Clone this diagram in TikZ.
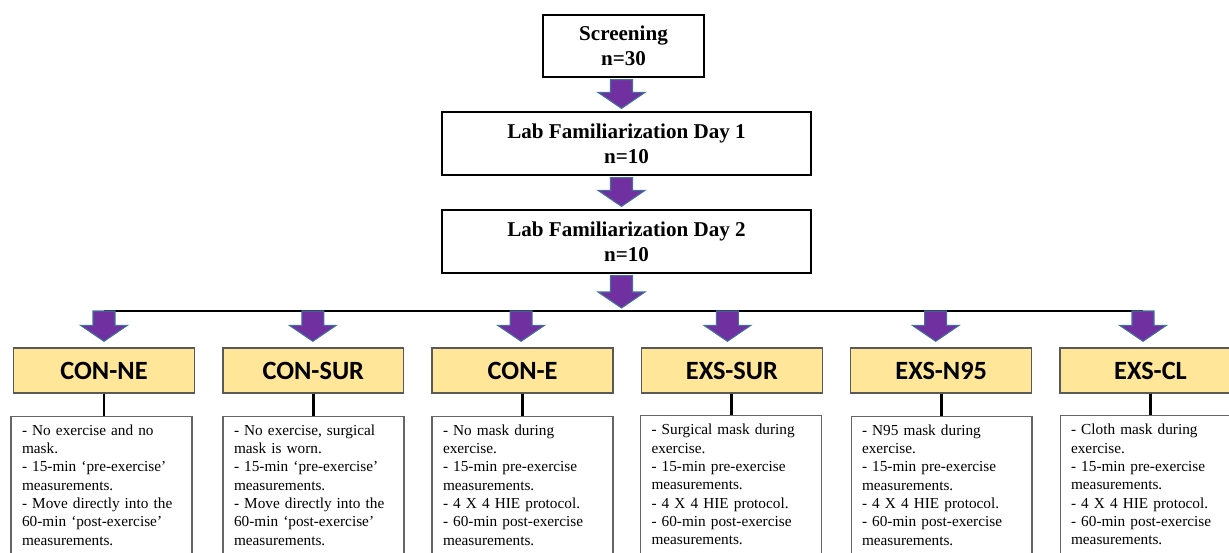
\documentclass[tikz,border=0pt]{standalone}
\usepackage{fontspec}
\setmainfont{Liberation Serif}
\newfontfamily\groupfont{Carlito}
\usepackage{tikz}
\usetikzlibrary{calc,positioning}
\definecolor{armpurple}{RGB}{112,48,160}
\definecolor{armblue}{RGB}{65,113,156}
\definecolor{softyellow}{RGB}{255,230,153}
\newcommand{\fatarrow}[2]{%
  \draw[fat] let \p1=#1, \p2=#2 in (\x1-0.22cm,\y1) -- (\x1+0.22cm,\y1) -- (\x1+0.22cm,\y2+0.32cm) -- (\x1+0.47cm,\y2+0.32cm)
    -- (\x1,\y2) -- (\x1-0.47cm,\y2+0.32cm) -- (\x1-0.22cm,\y2+0.32cm) -- cycle;}

\begin{document}
\begin{tikzpicture}[x=0.02cm, y=-0.02cm,
    stage/.style={draw, line width=0.7pt, align=center, font=\bfseries\fontsize{12}{14.2}\selectfont},
    group/.style={draw=black!65, line width=0.8pt, fill=softyellow, minimum width=3.62cm, minimum height=0.9cm, font=\groupfont\bfseries\fontsize{15}{18}\selectfont},
    info/.style={draw=black!60, line width=0.6pt, anchor=north, text width=3.18cm, inner xsep=0.22cm, inner ysep=5pt, align=left, font=\fontsize{8.7}{10.4}\selectfont},
    fat/.style={fill=armpurple, draw=armblue, line width=0.6pt},
    stem/.style={line width=1.7pt}]
  \clip (0,0) rectangle (1229,552);
  \node[stage, minimum width=3.22cm, minimum height=1.24cm] (scr) at (623.5,46) {Screening\\n=30};
  \node[stage, minimum width=7.38cm, minimum height=1.26cm] (day1) at (626.5,143.5) {Lab Familiarization Day 1\\n=10};
  \node[stage, minimum width=7.38cm, minimum height=1.26cm] (day2) at (626.5,241.5) {Lab Familiarization Day 2\\n=10};
  \foreach \name/\lbl [count=\i from 0] in {cne/CON-NE, csur/CON-SUR, ce/CON-E, esur/EXS-SUR, en95/EXS-N95, ecl/EXS-CL}
    \node[group] (\name) at (104+209.3*\i,370.5) {\lbl};
  \node[info] (dcne) at (101.5,415.5) {- No exercise and no\\mask.\\- 15-min `pre-exercise'\\measurements.\\- Move directly into the\\60-min `post-exercise'\\measurements.};
  \node[info] (dcsur) at (313.5,415.5) {- No exercise, surgical\\mask is worn.\\- 15-min `pre-exercise'\\measurements.\\- Move directly into the\\60-min `post-exercise'\\measurements.};
  \node[info] (dce) at (522.5,415.5) {- No mask during\\exercise.\\- 15-min pre-exercise\\measurements.\\- 4 X 4 HIE protocol.\\- 60-min post-exercise\\measurements.};
  \node[info] (desur) at (731,415) {- Surgical mask during\\exercise.\\- 15-min pre-exercise\\measurements.\\- 4 X 4 HIE protocol.\\- 60-min post-exercise\\measurements.};
  \node[info] (den95) at (941.5,415.5) {- N95 mask during\\exercise.\\- 15-min pre-exercise\\measurements.\\- 4 X 4 HIE protocol.\\- 60-min post-exercise\\measurements.};
  \node[info] (decl) at (1150.5,415) {- Cloth mask during\\exercise.\\- 15-min pre-exercise\\measurements.\\- 4 X 4 HIE protocol.\\- 60-min post-exercise\\measurements.};
  \coordinate (busL) at (104,311);
  \coordinate (busR) at (1143,311);
  \draw[line width=1.1pt] (busL) -- (busR);
  \fatarrow{($(scr.south)+(-2,2)$)}{($(day1.north)+(-5,-3)$)}
  \fatarrow{($(day1.south)+(-5,2)$)}{($(day2.north)+(-5,-3)$)}
  \fatarrow{($(day2.south)+(-5,2)$)}{($(day2.south |- busL)+(-5,-3)$)}
  \foreach \name/\dx in {cne/0, csur/-0.5, ce/-1.5, esur/-4.5, en95/-5.5, ecl/-7.5}
    \fatarrow{($(\name.north |- busL)+(\dx,0)$)}{($(\name.north)+(\dx,-6)$)}
  \foreach \name in {cne, csur, ce, esur, en95, ecl}
    \draw[stem] (\name.south) -- (\name.south |- d\name.north);
\end{tikzpicture}
\end{document}
